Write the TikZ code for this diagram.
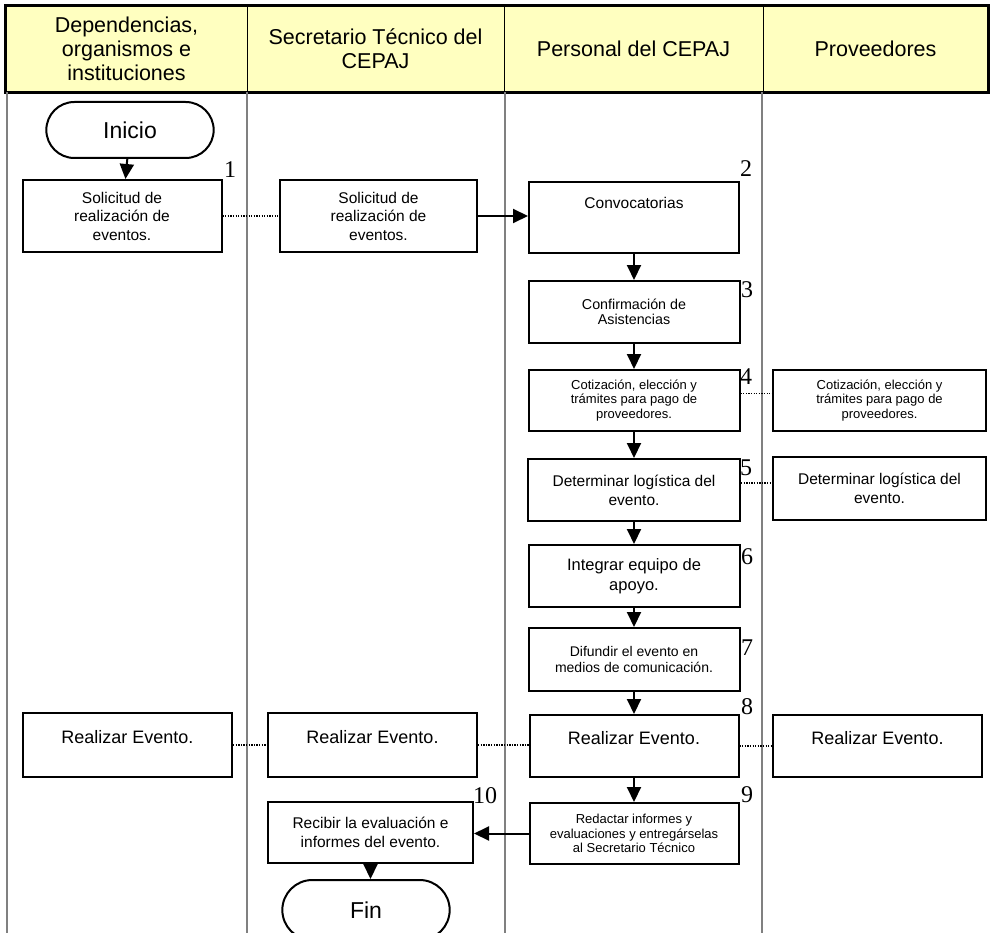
\documentclass[tikz,border=0pt]{standalone}
\usepackage{fontspec}
\setmainfont{Liberation Sans}
\newfontfamily\numfont{Liberation Serif}
\usepackage{xcolor}
\usepackage{tikz}
\usetikzlibrary{shapes,arrows.meta,positioning}
\definecolor{headyellow}{RGB}{255,255,192}
\definecolor{lanegray}{RGB}{128,128,128}

\begin{document}
\begin{tikzpicture}[x=1pt, y=-1pt, >={Triangle[width=14pt,length=15pt]}]
    % Define styles
    \tikzstyle{head} = [rectangle, draw, line width=1pt, fill=headyellow, minimum height=86pt, align=center, inner sep=0pt, font=\fontsize{21.5}{24}\selectfont]
    \tikzstyle{terminal} = [rounded rectangle, draw, line width=2pt, minimum width=174pt, minimum height=56pt, font=\fontsize{23}{26}\selectfont]
    \tikzstyle{process} = [rectangle, draw, line width=2pt, align=center, inner sep=2pt, minimum height=62pt, font=\fontsize{15.5}{18.5}\selectfont]
    \tikzstyle{small} = [font=\fontsize{13}{14.5}\selectfont]
    \tikzstyle{line} = [draw, ->, line width=2pt]
    \tikzstyle{link} = [draw, line width=1.3pt, dash pattern=on 1.3pt off 1.3pt]
    \tikzstyle{lane} = [draw, lanegray, line width=2pt]
    \tikzstyle{num} = [inner sep=0pt, font=\numfont\fontsize{24}{24}\selectfont]

    \useasboundingbox (0,0) rectangle (992,933);
    \clip (0,0) rectangle (992,933);

    % Swimlane headers
    \node [head, minimum width=241pt] (h1) at (126.5,49) {Dependencias,\\organismos e\\instituciones};
    \node [head, minimum width=257pt] (h2) at (375.5,49) {Secretario T\'ecnico del\\CEPAJ};
    \node [head, minimum width=259pt] (h3) at (633.5,49) {Personal del CEPAJ};
    \node [head, minimum width=225pt] (h4) at (875.5,49) {Proveedores};
    \draw [line width=2.5pt] (h1.north west) rectangle (h4.south east);

    % Lane separators
    \foreach \lx in {7,247,505,762}
        \draw [lane] (\lx,92) -- (\lx,933);

    % Nodes
    \node [terminal] (inicio) at (130,130) {Inicio};
    \node [process, minimum width=199pt, minimum height=72pt] (dep1) at (122,216) {Solicitud de\\realizaci\'on de\\eventos.};
    \node [process, minimum width=197pt, minimum height=72pt] (sec1) at (378.5,216) {Solicitud de\\realizaci\'on de\\eventos.};
    \node [process, minimum width=210pt, minimum height=71pt, text depth=29pt] (per2) at (634,217.5) {Convocatorias};
    \node [process, minimum width=211pt, font=\fontsize{14.3}{15.5}\selectfont] (per3) at (634,312) {Confirmaci\'on de\\Asistencias};
    \node [process, small, minimum width=211pt, minimum height=61pt] (per4) at (634,400.5) {Cotizaci\'on, elecci\'on y\\tr\'amites para pago de\\proveedores.};
    \node [process, small, minimum width=213pt, minimum height=61pt] (pro4) at (879.5,400.5) {Cotizaci\'on, elecci\'on y\\tr\'amites para pago de\\proveedores.};
    \node [process, minimum width=212pt, font=\fontsize{15.5}{19}\selectfont] (per5) at (634,490) {Determinar log\'istica del\\evento.};
    \node [process, minimum width=213pt, minimum height=63pt, font=\fontsize{15.5}{19}\selectfont] (pro5) at (879.5,488.5) {Determinar log\'istica del\\evento.};
    \node [process, minimum width=211pt, font=\fontsize{16.5}{20}\selectfont] (per6) at (634,576) {Integrar equipo de\\apoyo.};
    \node [process, minimum width=211pt, minimum height=63pt, font=\fontsize{14}{15.5}\selectfont] (per7) at (634,659.5) {Difundir el evento en\\medios de comunicaci\'on.};
    \node [process, minimum width=209pt, minimum height=64pt, text depth=16pt, font=\fontsize{18}{20}\selectfont] (dep8) at (127.5,745) {Realizar Evento.};
    \node [process, minimum width=209pt, minimum height=64pt, text depth=16pt, font=\fontsize{18}{20}\selectfont] (sec8) at (372.5,745) {Realizar Evento.};
    \node [process, minimum width=209pt, text depth=16pt, font=\fontsize{18}{20}\selectfont] (per8) at (634,746) {Realizar Evento.};
    \node [process, minimum width=209pt, text depth=16pt, font=\fontsize{18}{20}\selectfont] (pro8) at (877.5,746) {Realizar Evento.};
    \node [process, small, minimum width=209pt, minimum height=61pt] (per9) at (634,833.5) {Redactar informes y\\evaluaciones y entreg\'arselas\\al Secretario T\'ecnico};
    \node [process, minimum width=205pt, minimum height=61pt, font=\fontsize{15.5}{19}\selectfont] (sec10) at (370.5,832.5) {Recibir la evaluaci\'on e\\informes del evento.};
    \node [terminal, minimum height=60pt] (fin) at (366,910) {Fin};

    % Step numbers
    \node [num] (n1) at (230,170) {1};
    \node [num] (n2) at (746,169) {2};
    \node [num] (n3) at (747,290) {3};
    \node [num] (n4) at (746,377) {4};
    \node [num] (n5) at (746,468) {5};
    \node [num] (n6) at (747,557) {6};
    \node [num] (n7) at (747,648) {7};
    \node [num] (n8) at (747,707) {8};
    \node [num] (n9) at (747,795) {9};
    \node [num] (n10) at (485,796) {10};

    % Flow arrows
    \draw [line] (inicio) -- (dep1);
    \draw [line] (sec1.east) -- (sec1.east -| per2.west);
    \draw [line] (per2) -- (per3);
    \draw [line] (per3) -- (per4);
    \draw [line] (per4) -- (per5);
    \draw [line] (per5) -- (per6);
    \draw [line] (per6) -- (per7);
    \draw [line] (per7) -- (per8);
    \draw [line] (per8) -- (per9);
    \draw [line] (per9.west) -- (per9.west -| sec10.east);
    \draw [line] (sec10.south) -- (sec10.south |- fin.north);

    % Dotted links between lanes
    \draw [link] (dep1.east) -- (dep1.east -| sec1.west);
    \draw [link] ([yshift=7pt]per4.east) -- ([yshift=7pt]per4.east -| pro4.west);
    \draw [link] ([yshift=7pt]per5.east) -- ([yshift=7pt]per5.east -| pro5.west);
    \draw [link] (dep8.east) -- (dep8.east -| sec8.west);
    \draw [link] (sec8.east) -- (sec8.east -| per8.west);
    \draw [link] (per8.east) -- (per8.east -| pro8.west);
\end{tikzpicture}
\end{document}
